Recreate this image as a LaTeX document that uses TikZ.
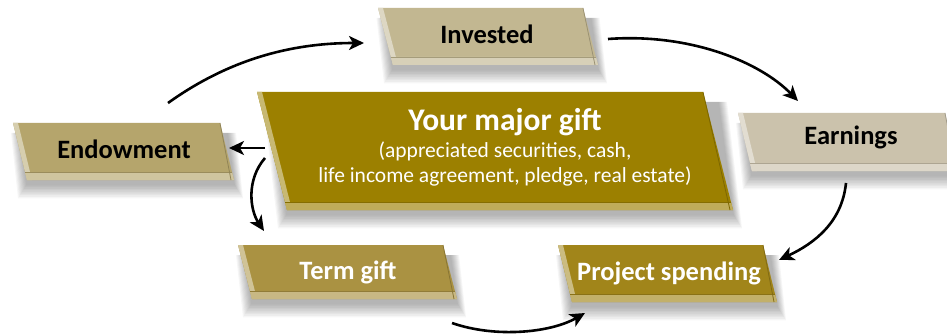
\documentclass[tikz,border=0pt]{standalone}
\usepackage{fontspec}
\setmainfont{Carlito}
\usetikzlibrary{arrows.meta}
\definecolor{cInv}{RGB}{194,183,145}
\definecolor{cEarn}{RGB}{203,194,172}
\definecolor{cEnd}{RGB}{181,165,108}
\definecolor{cGift}{RGB}{156,128,0}
\definecolor{cTerm}{RGB}{170,146,66}
\definecolor{cProj}{RGB}{161,133,26}
\tikzset{
  flow/.style={line width=2.6pt,-{Stealth[length=15pt,width=14pt,inset=4pt]}},
  lbl/.style={font=\fontsize{26.5}{30}\selectfont\bfseries,text=black,inner sep=0pt},
  wlbl/.style={lbl,text=white},
  sub/.style={font=\fontsize{21.5}{24.5}\selectfont,text=white,inner sep=0pt,align=center},
  shade layer/.style={fill=black,opacity=0.035}
}
% #1 left top x, #2 right top x, #3 top y, #4 bottom y, #5 slant, #6 colour
\newcommand\gbox[6]{%
  \foreach \i in {1,...,9}{%
    \fill[shade layer] ({#1+#5*0.5-\i},{#3+10}) -- ({#2+#5*0.5+\i},{#3+10}) -- ({#2+#5+\i},{#4+4+1.6*\i}) -- ({#1+#5-\i},{#4+4+1.6*\i}) -- cycle;
  }
  \fill[#6] (#1,#3) -- (#2,#3) -- ({#2+#5},#4) -- ({#1+#5},#4) -- cycle;
  \fill[#6!55!white] (#1,#3) -- ({#1+5},#3) -- ({#1+#5+5},#4) -- ({#1+#5},#4) -- cycle;
  \fill[#6!65!white] ({#1+#5-2},{#4-8}) -- ({#2+#5-2},{#4-8}) -- ({#2+#5},#4) -- ({#1+#5},#4) -- cycle;
  \draw[#6!85!black,line width=0.8pt] ({#1+#5-2},{#4-8}) -- ({#2+#5-2},{#4-8});
  \draw[#6!80!black,line width=0.8pt] ({#2+#5-3},#4) -- (#2,#3);
}
\begin{document}
\begin{tikzpicture}[x=1pt,y=-1pt]
\useasboundingbox[fill=white] (0,0) rectangle (947,334);
% boxes
\gbox{378}{583}{8}{65}{15}{cInv}
\gbox{738}{945}{113}{171}{14}{cEarn}
\gbox{13}{220}{123}{180}{14}{cEnd}
\gbox{257}{703}{92}{210}{30}{cGift}
\gbox{238}{443}{245}{299}{14}{cTerm}
\gbox{558}{763}{245}{302}{14}{cProj}
% labels
\node[lbl] (inv) at (487,34) {Invested};
\node[lbl] (earn) at (851,137) {Earnings};
\node[lbl] (endw) at (124,149) {Endowment};
\node[wlbl,font=\fontsize{31.5}{34}\selectfont\bfseries] (gift) at (505,122) {Your major gift};
\node[sub] (giftsub) at (505,164) {(appreciated securities, cash,\\life income agreement, pledge, real estate)};
\node[wlbl] (term) at (348,272) {Term gift};
\node[wlbl] (proj) at (669,273) {Project spending};
% connector ends
\coordinate (a1s) at (168,103); \coordinate (a1e) at (364,43);
\coordinate (a2s) at (608,39);  \coordinate (a2e) at (798,101);
\coordinate (a3s) at (846,183); \coordinate (a3e) at (779,260);
\coordinate (a4s) at (265,148); \coordinate (a4e) at (229,148);
\coordinate (a5s) at (265,158); \coordinate (a5e) at (264,231);
\coordinate (a6s) at (452,323); \coordinate (a6e) at (585,313);
% connectors
\draw[flow] (a1s) .. controls (235,55) and (300,43) .. (a1e);
\draw[flow] (a2s) .. controls (690,33) and (760,62) .. (a2e);
\draw[flow] (a3s) .. controls (842,222) and (815,243) .. (a3e);
\draw[flow] (a4s) -- (a4e);
\draw[flow] (a5s) .. controls (246,180) and (250,210) .. (a5e);
\draw[flow] (a6s) .. controls (495,338) and (550,333) .. (a6e);
\end{tikzpicture}
\end{document}
